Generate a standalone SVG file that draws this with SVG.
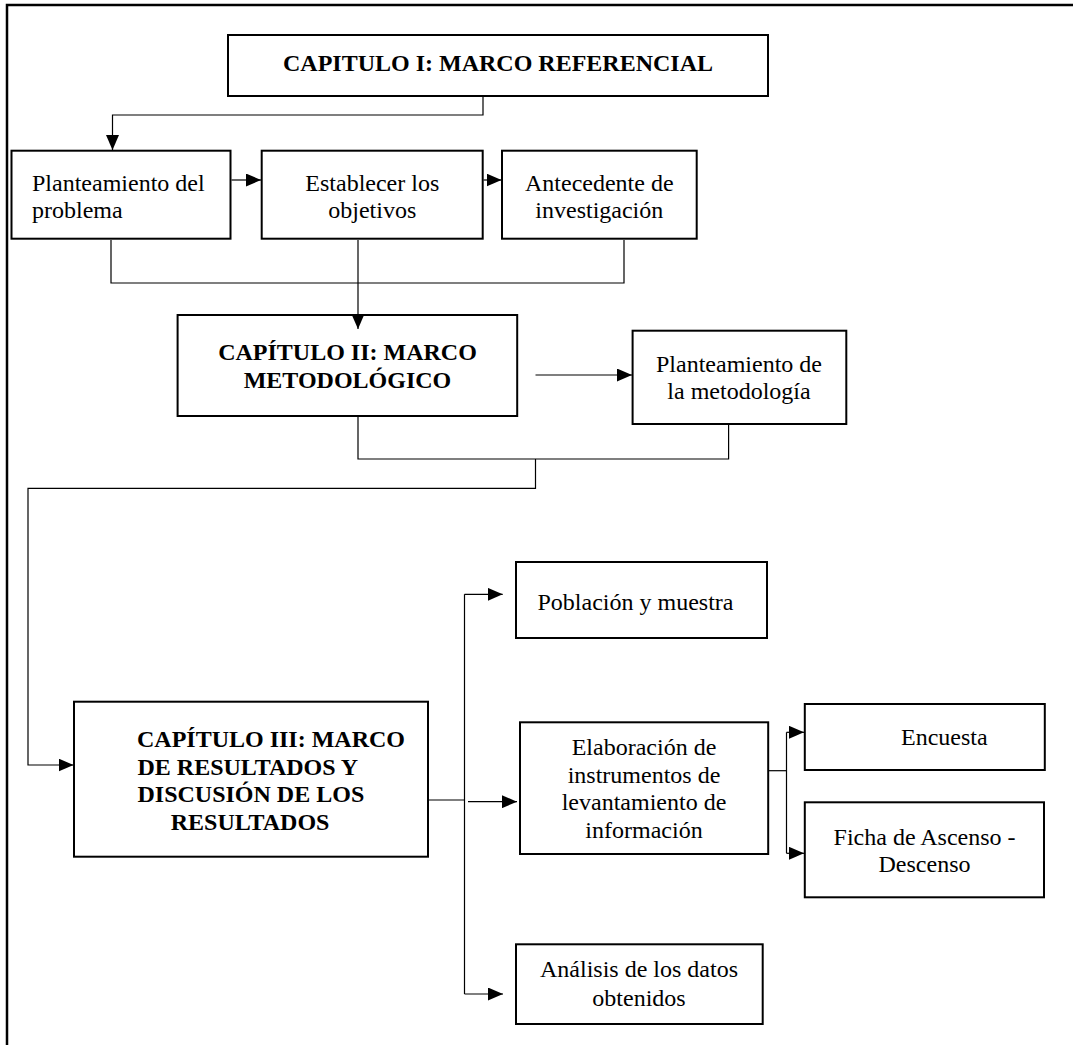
<svg xmlns="http://www.w3.org/2000/svg" width="1073" height="1045" viewBox="0 0 1073 1045">
<style>
.box{fill:#fff;stroke:#000;stroke-width:2}
.c{fill:none;stroke:#000;stroke-width:1.2}
.t{font-family:"Liberation Serif","Times New Roman",serif;font-size:24px;fill:#000}
.b{font-weight:bold}
.m{text-anchor:middle}
</style>
<defs>
<marker id="ah" markerUnits="userSpaceOnUse" markerWidth="15" markerHeight="13" refX="15" refY="6.5" orient="auto">
<path d="M0,0 L15,6.5 L0,13 z" fill="#000"/>
</marker>
</defs>
<rect width="1073" height="1045" fill="#fff"/>
<path d="M7,1045 V5 H1073" fill="none" stroke="#000" stroke-width="2.5"/>

<g id="cap1">
<rect class="box" x="228" y="35" width="540" height="61"/>
<text class="t b m" x="498" y="71">CAPITULO I: MARCO REFERENCIAL</text>
</g>
<g id="planteamiento">
<rect class="box" x="11.5" y="150.7" width="219" height="88"/>
<text class="t" x="32" y="190.5">Planteamiento del</text>
<text class="t" x="32" y="218.3">problema</text>
</g>
<g id="objetivos">
<rect class="box" x="261.7" y="150.7" width="221" height="88"/>
<text class="t m" x="372.3" y="190.5">Establecer los</text>
<text class="t m" x="372.3" y="218.3">objetivos</text>
</g>
<g id="antecedente">
<rect class="box" x="502" y="150.7" width="194.7" height="88"/>
<text class="t m" x="599.3" y="190.5">Antecedente de</text>
<text class="t m" x="599.3" y="218.3">investigación</text>
</g>
<g id="cap2">
<rect class="box" x="177.6" y="315" width="339.6" height="101"/>
<text class="t b m" x="347.5" y="360">CAPÍTULO II: MARCO</text>
<text class="t b m" x="347.5" y="388">METODOLÓGICO</text>
</g>
<g id="metodologia">
<rect class="box" x="632.6" y="330.7" width="213.7" height="93.3"/>
<text class="t m" x="739" y="371.5">Planteamiento de</text>
<text class="t m" x="739" y="398.5">la metodología</text>
</g>
<g id="cap3">
<rect class="box" x="74" y="701.7" width="354" height="155"/>
<text class="t b" x="137" y="747">CAPÍTULO III: MARCO</text>
<text class="t b" x="137.5" y="774.5">DE RESULTADOS Y</text>
<text class="t b" x="137.5" y="802">DISCUSIÓN DE LOS</text>
<text class="t b" x="170.7" y="829.5">RESULTADOS</text>
</g>
<g id="poblacion">
<rect class="box" x="516" y="562" width="251" height="76"/>
<text class="t" x="537.5" y="609.5">Población y muestra</text>
</g>
<g id="elaboracion">
<rect class="box" x="520" y="722.3" width="248.2" height="131.7"/>
<text class="t m" x="644" y="755">Elaboración de</text>
<text class="t m" x="644" y="782.5">instrumentos de</text>
<text class="t m" x="644" y="810">levantamiento de</text>
<text class="t m" x="644" y="837.5">información</text>
</g>
<g id="encuesta">
<rect class="box" x="804.8" y="704" width="240" height="66"/>
<text class="t" x="901" y="745">Encuesta</text>
</g>
<g id="ficha">
<rect class="box" x="804.8" y="802.3" width="239.2" height="95"/>
<text class="t" x="833.6" y="845">Ficha de Ascenso -</text>
<text class="t m" x="924.5" y="872">Descenso</text>
</g>
<g id="analisis">
<rect class="box" x="516" y="944.3" width="246.7" height="79.7"/>
<text class="t m" x="639" y="977">Análisis de los datos</text>
<text class="t m" x="639" y="1005.5">obtenidos</text>
</g>

<g id="connectors">
<path class="c" d="M483,97 V115 H112.5 V150" marker-end="url(#ah)"/>
<path class="c" d="M231.5,180 H261" marker-end="url(#ah)"/>
<path class="c" d="M483.5,180 H501.5" marker-end="url(#ah)"/>
<path class="c" d="M111,240 V283 H624 V240"/>
<path class="c" d="M358,240 V329" marker-end="url(#ah)"/>
<path class="c" d="M535.5,375 H632" marker-end="url(#ah)"/>
<path class="c" d="M358,417 V459 H728.6 V425"/>
<path class="c" d="M535.5,459 V488.3 H28 V765 H73.5" marker-end="url(#ah)"/>
<path class="c" d="M429,800 H464.5"/>
<path class="c" d="M464.5,594.3 V994"/>
<path class="c" d="M464.5,594.3 H502.7" marker-end="url(#ah)"/>
<path class="c" d="M468,801.7 H517" marker-end="url(#ah)"/>
<path class="c" d="M464.5,994 H503" marker-end="url(#ah)"/>
<path class="c" d="M769,770.7 H786.5"/>
<path class="c" d="M786.5,732.3 V853.3"/>
<path class="c" d="M786.5,732.3 H804" marker-end="url(#ah)"/>
<path class="c" d="M786.5,853.3 H804" marker-end="url(#ah)"/>
</g>
</svg>
